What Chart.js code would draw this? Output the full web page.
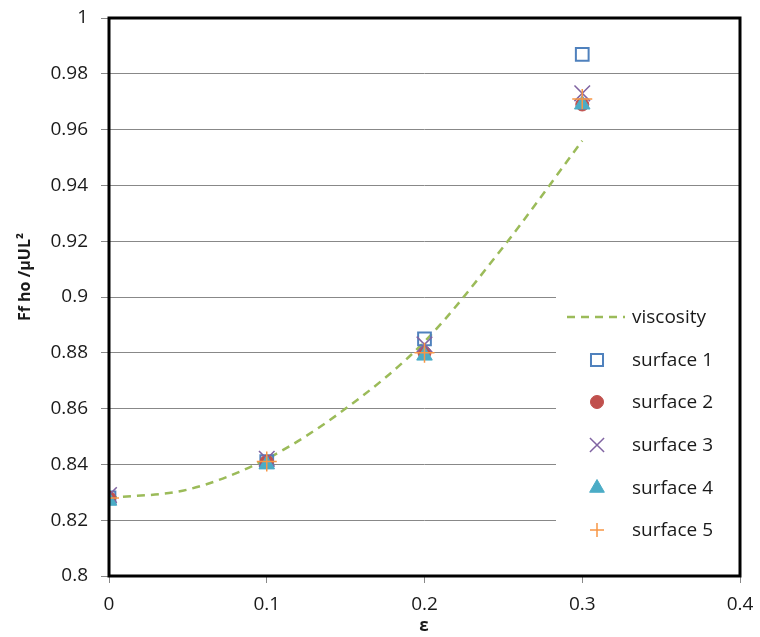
<!DOCTYPE html>
<html>
<head>
<meta charset="utf-8">
<script src="https://cdn.jsdelivr.net/npm/chart.js@4.4.1/dist/chart.umd.min.js"></script>
<style>
  html, body { margin: 0; padding: 0; background: #fff; }
  #wrap { width: 760px; height: 637px; }
</style>
</head>
<body>
<div id="wrap"><canvas id="chart" width="760" height="637"></canvas></div>
<script>
// eps values and results
const epsPoints = [0, 0.1, 0.2, 0.3];
const viscX = [0, 0.05, 0.1, 0.15, 0.2, 0.25, 0.3];
const viscosity = [0.828, 0.831, 0.842, 0.860, 0.884, 0.918, 0.956];
const surface1 = [0.828, 0.841, 0.885, 0.987];
const surface2 = [0.828, 0.841, 0.880, 0.969];
const surface3 = [0.829, 0.842, 0.883, 0.973];
const surface4 = [0.827, 0.840, 0.879, 0.969];
const surface5 = [0.828, 0.841, 0.880, 0.971];
const xTicks = [0, 0.1, 0.2, 0.3, 0.4];
const yTicks = [0.8, 0.82, 0.84, 0.86, 0.88, 0.9, 0.92, 0.94, 0.96, 0.98, 1];
const xTitle = 'ε';
const yTitle = 'Ff ho /μUL²';

const FONT = "'Open Sans', 'DejaVu Sans', sans-serif";
const TXT = '#1a1a1a';

function pts(xs, ys) {
    return xs.map((x, i) => ({ x: x, y: ys[i] }));
}

const datasets = [
    { label: 'viscosity', data: pts(viscX, viscosity), showLine: true, borderColor: '#9BBB59', borderWidth: 2.5,
      borderDash: [8, 6], pointRadius: 0, cubicInterpolationMode: 'monotone', order: 6 },
    { label: 'surface 1', data: pts(epsPoints, surface1), pointStyle: 'rect', pointRadius: 9, borderColor: '#4F81BD',
      backgroundColor: 'rgba(255,255,255,0)', pointBorderWidth: 2, order: 5, legendRadius: 8.5 },
    { label: 'surface 2', data: pts(epsPoints, surface2), pointStyle: 'circle', pointRadius: 6.5, borderColor: '#C0504D',
      backgroundColor: '#C0504D', pointBorderWidth: 1, order: 4, legendRadius: 6.5 },
    { label: 'surface 3', data: pts(epsPoints, surface3), pointStyle: 'crossRot', pointRadius: 11, borderColor: '#8064A2',
      backgroundColor: '#8064A2', pointBorderWidth: 1.5, order: 3, legendRadius: 10 },
    { label: 'surface 4', data: pts(epsPoints, surface4), pointStyle: 'triangle', pointRadius: 9, borderColor: '#4BACC6',
      backgroundColor: '#4BACC6', pointBorderWidth: 1, order: 2, legendRadius: 8.5 },
    { label: 'surface 5', data: pts(epsPoints, surface5), pointStyle: 'cross', pointRadius: 10, borderColor: '#F79646',
      backgroundColor: '#F79646', pointBorderWidth: 1.5, order: 1, legendRadius: 7 }
];

// frame, titles and legend inside the plot, like the Excel original
const framePlugin = {
    id: 'frame',
    afterDraw(chart) {
        const ctx = chart.ctx;
        const a = chart.chartArea;
        ctx.save();

        // legend box
        const lx = 556, ly = 291, lw = a.right - 556 - 1, lh = 270;
        ctx.fillStyle = '#fff';
        ctx.fillRect(lx, ly, lw, lh);
        const rows = [317, 360, 402, 445, 488, 530];
        ctx.font = '19px ' + FONT;
        ctx.textBaseline = 'middle';
        ctx.textAlign = 'left';
        datasets.forEach((ds, i) => {
            const y = rows[i];
            if (i === 0) {
                ctx.strokeStyle = ds.borderColor;
                ctx.lineWidth = 2.5;
                ctx.setLineDash([8, 6]);
                ctx.beginPath();
                ctx.moveTo(567, y);
                ctx.lineTo(625, y);
                ctx.stroke();
                ctx.setLineDash([]);
            } else {
                ctx.strokeStyle = ds.borderColor;
                ctx.fillStyle = ds.backgroundColor;
                ctx.lineWidth = ds.pointBorderWidth;
                Chart.helpers.drawPoint(ctx, { pointStyle: ds.pointStyle, radius: ds.legendRadius, rotation: 0, borderWidth: ds.pointBorderWidth }, 597, y);
            }
            ctx.fillStyle = TXT;
            ctx.fillText(ds.label, 632, y + 1);
        });

        // plot border
        ctx.strokeStyle = '#000';
        ctx.lineWidth = 3;
        ctx.strokeRect(a.left, a.top, a.right - a.left, a.bottom - a.top);

        // axis titles
        ctx.fillStyle = TXT;
        ctx.font = 'bold 17px ' + FONT;
        ctx.textAlign = 'center';
        ctx.textBaseline = 'middle';
        ctx.fillText(xTitle, 424, 626);
        ctx.translate(25, 277);
        ctx.rotate(-Math.PI / 2);
        ctx.font = 'bold 16px ' + FONT;
        ctx.fillText(yTitle, 0, 0);
        ctx.restore();
    }
};

new Chart(document.getElementById('chart'), {
    type: 'scatter',
    data: { datasets: datasets },
    plugins: [framePlugin],
    options: {
        responsive: false,
        animation: false,
        layout: { padding: { top: 18, right: 20, left: 0, bottom: 0 } },
        plugins: { legend: { display: false }, tooltip: { enabled: false } },
        scales: {
            x: {
                type: 'linear', min: 0, max: 0.4,
                afterBuildTicks: s => { s.ticks = xTicks.map(v => ({ value: v })); },
                afterFit: s => { s.height = 61; s.paddingLeft = 0; s.paddingRight = 0; },
                grid: { drawOnChartArea: false, drawTicks: true, tickLength: 7, color: '#888' },
                border: { display: false },
                ticks: { color: TXT, font: { family: FONT, size: 19 }, padding: 10, callback: v => String(+v.toFixed(2)) }
            },
            y: {
                type: 'linear', min: 0.8, max: 1,
                afterBuildTicks: s => { s.ticks = yTicks.map(v => ({ value: v })); },
                afterFit: s => { s.width = 109; s.paddingTop = 0; s.paddingBottom = 0; },
                grid: { color: '#888', lineWidth: 1, tickLength: 8 },
                border: { display: false },
                ticks: { color: TXT, font: { family: FONT, size: 19 }, padding: 13, callback: v => String(+v.toFixed(2)) }
            }
        }
    }
});
</script>
</body>
</html>
